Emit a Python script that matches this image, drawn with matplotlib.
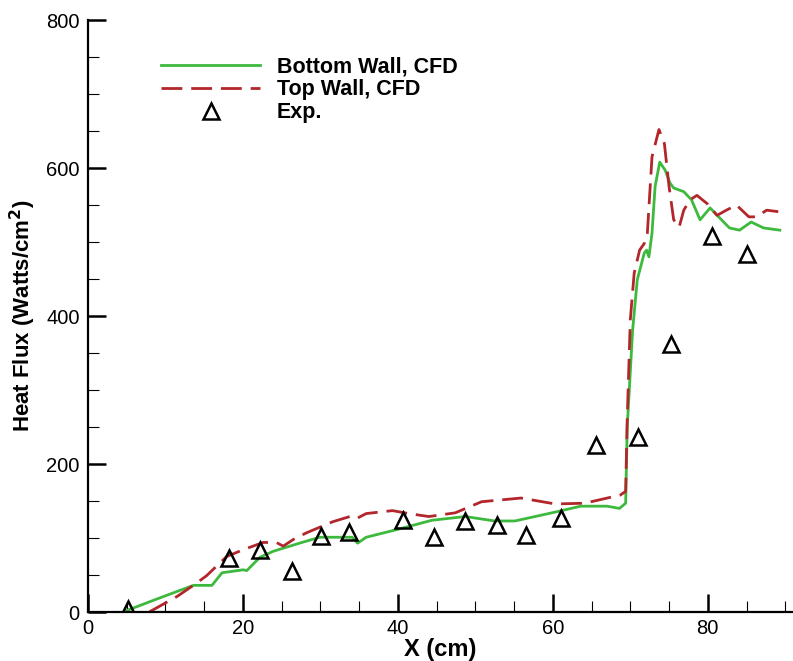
import matplotlib
matplotlib.use("Agg")
import matplotlib.pyplot as plt

plt.rcParams['font.family'] = ['Liberation Sans', 'DejaVu Sans']

# Bottom wall CFD
bot_x = [5.0, 9.0, 13.6, 16.0, 17.3, 20.0, 20.5, 22.2, 23.9, 27.3, 29.9, 34.1, 34.8, 35.9,
         40.1, 44.4, 48.7, 52.5, 55.1, 60.3, 63.6, 67.0, 68.6, 69.4, 69.6, 70.3, 70.9,
         71.8, 72.1, 72.4, 72.8, 73.2, 73.8, 74.5, 75.1, 75.6, 76.9, 77.9, 79.0, 80.3,
         81.4, 82.8, 84.1, 85.6, 87.2, 89.3]
bot_y = [2, 18, 36, 36, 53, 57, 56, 74, 82, 93, 101, 101, 93, 101,
         112, 124, 129, 123, 123, 135, 143, 143, 140, 147, 250, 381, 449,
         485, 489, 480, 512, 575, 608, 597, 580, 573, 568, 557, 530, 546,
         534, 519, 516, 527, 519, 516]

# Top wall CFD
top_x = [7.9, 11.5, 13.6, 15.3, 17.9, 20.0, 22.6, 24.3, 25.2, 26.5, 28.2, 31.6, 34.1, 34.8,
         35.9, 39.3, 41.4, 44.0, 47.4, 50.8, 55.9, 60.3, 64.1, 68.7, 69.4, 69.6, 70.0,
         70.5, 71.2, 71.8, 72.2, 72.8, 73.7, 74.4, 75.0, 75.6, 76.3, 76.9, 77.7, 78.6,
         79.9, 81.2, 82.4, 83.7, 85.3, 86.3, 87.6, 89.1]
top_y = [0, 21, 36, 49, 75, 84, 94, 94, 89, 98, 107, 122, 130, 127,
         133, 137, 133, 129, 134, 149, 154, 146, 147, 158, 163, 260, 395,
         458, 489, 498, 512, 615, 652, 633, 575, 530, 520, 543, 557, 563,
         552, 536, 543, 550, 534, 534, 543, 541]

# Experiment
exp_x = [5.1, 18.2, 22.2, 26.3, 30.1, 33.7, 40.6, 44.6, 48.7, 52.8, 56.5, 61.0,
         65.6, 71.0, 75.3, 80.6, 85.0]
exp_y = [4, 73, 84, 55, 103, 108, 124, 101, 123, 118, 104, 127,
         226, 236, 362, 508, 484]

fig = plt.figure(figsize=(7.93, 6.61), dpi=100)
ax = fig.add_axes([88/793, 1-612/661, 705/793, (612-20)/661])

green = '#3dba3d'
red = '#b3262b'
ax.plot(bot_x, bot_y, color=green, lw=2.0, label='Bottom Wall, CFD')
ax.plot(top_x, top_y, color=red, lw=2.0, dashes=(7.5, 3.2), label='Top Wall, CFD')
ax.plot(exp_x, exp_y, linestyle='none', marker='^', markersize=11, markerfacecolor='none',
        markeredgecolor='black', markeredgewidth=1.8, label='Exp.')

ax.set_xlim(0, 91)
ax.set_ylim(0, 800)
ax.set_xticks([0, 20, 40, 60, 80])
ax.set_yticks([0, 200, 400, 600, 800])
ax.set_xticks(range(5, 91, 5), minor=True)
ax.set_yticks(range(50, 800, 50), minor=True)
for s in ['top', 'right']:
    ax.spines[s].set_visible(False)
for s in ['left', 'bottom']:
    ax.spines[s].set_linewidth(1.6)
ax.tick_params(which='major', direction='in', length=13, width=1.8, labelsize=14.5, pad=6)
ax.tick_params(axis='x', which='major', pad=5)
ax.tick_params(which='minor', direction='in', length=8, width=0.8)
ax.set_xlabel('X (cm)', fontsize=17, fontweight='bold', labelpad=0)
ax.set_ylabel('Heat Flux (Watts/cm$^\\mathbf{2}$)', fontsize=16, fontweight='bold', labelpad=6)

leg = ax.legend(loc='upper left', bbox_to_anchor=(0.095, 0.95), frameon=False,
                prop={'weight': 'bold', 'size': 15.5}, handlelength=4.6, handletextpad=0.75,
                labelspacing=0.1, borderaxespad=0, borderpad=0.3)

fig.savefig('out.png', dpi=100)
